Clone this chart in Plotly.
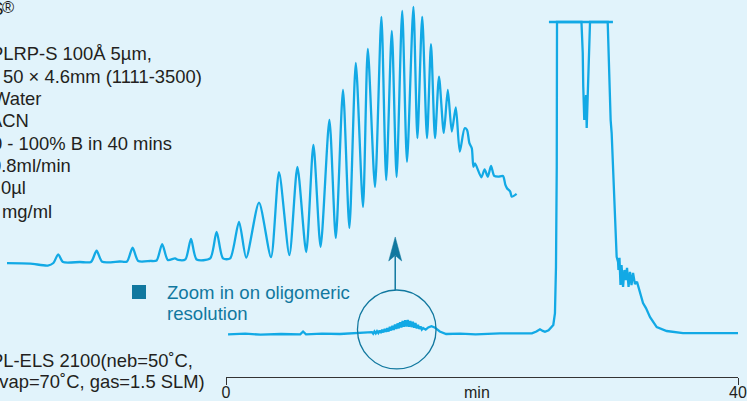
import plotly.graph_objects as go

# ---------------- data ----------------
# Full chromatogram: retention time (min) vs detector response (% of full scale)
MAIN_TIME = [0.16, 1.5, 2.7, 4.3, 5.8, 6.02, 6.25, 7.5, 8.9, 10.2, 11.0,
             11.4, 11.5, 11.6, 11.7, 11.8, 11.9, 12.0, 12.1, 12.2, 12.3,
             12.4, 12.5, 12.6, 12.7, 12.8, 12.9, 13.0, 13.1, 13.2, 13.3,
             13.4, 13.5, 13.6, 13.7, 13.8, 13.9, 14.0, 14.1, 14.2, 14.3,
             14.4, 14.5, 14.6, 14.7, 14.8, 14.9, 15.0, 15.1, 15.2, 15.3,
             15.4, 15.6, 15.8, 16.05, 16.3, 16.7, 17.2, 18.3, 19.5, 21.4, 22.8,
             23.9, 24.25, 24.53, 24.75, 24.92, 25.2, 25.4, 25.57, 25.70, 25.78,
             25.84, 25.86,
             27.77, 27.87, 27.91, 27.99, 28.06, 28.13, 28.18, 28.26, 28.34, 28.44,
             29.82, 29.87, 29.95, 30.0, 30.05, 30.13, 30.18, 30.26, 30.39, 30.52, 30.63,
             30.66, 30.74, 30.82, 30.90, 31.02, 31.13, 31.25, 31.33, 31.45, 31.56,
             31.68, 31.80, 31.95, 32.11,
             32.34, 32.58, 32.81, 33.13, 33.65, 34.43, 35.70, 37.03, 38.59, 40.0]
MAIN_SIGNAL = [-0.1, 0.1, -0.2, 0.0, -0.1, 0.8, -0.1, 0.1, 0.0, 0.2, 0.4,
               0.6, 0.1, 0.8, 0.2, 0.9, 0.3, 1.1, 0.3, 1.4, 0.5,
               1.6, 0.7, 1.9, 0.8, 2.3, 1.1, 2.6, 1.3, 3.0, 1.6,
               3.4, 1.8, 3.8, 2.1, 4.2, 2.3, 4.4, 2.4, 4.5, 2.3,
               4.2, 2.2, 3.9, 2.0, 3.5, 1.8, 2.9, 1.6, 2.4, 1.4,
               1.9, 1.4, 2.1, 2.5, 2.1, 0.8, 0.0, 0.1, -0.1, 0.2, 0.1,
               0.2, 0.8, 1.5, 1.0, 0.7, 1.2, 2.0, 2.9, 6.7, 21.5,
               53.5, 100,
               100, 90.1, 79.3, 68.6, 71.8, 76.6, 66.0, 79.3, 91.0, 100,
               100, 91.0, 85.7, 77.2, 68.6, 64.4, 59.0, 49.4, 34.3, 24.7, 23.1,
               20.5, 24.4, 15.7, 22.1, 15.1, 20.5, 17.3, 21.2, 15.1, 19.9,
               15.7, 19.6, 16.0, 16.7,
               13.1, 9.9, 8.3, 5.4, 2.2, 0.96, 0.3, 0.3, 0.2, 0.3]

# Detector saturation (flat top of the main peak)
SATURATION_TIME = [25.23, 30.23]
SATURATION_LEVEL = 100

# Zoomed view of the oligomeric region (expanded time, expanded response)
ZOOM_TIME = [10.00, 10.29, 10.51, 10.58, 10.64, 10.70, 10.91, 11.05, 11.12, 11.19,
             11.41, 11.50, 11.57, 11.64, 11.79, 11.87, 11.94, 12.01, 12.10, 12.14,
             12.23, 12.30, 12.37, 12.54, 12.62, 12.70, 12.79, 12.90, 12.99, 13.15,
             13.30, 13.40, 13.53, 13.63, 13.74, 13.83, 13.92, 14.03, 14.11, 14.20,
             14.28, 14.36, 14.45, 14.51, 14.60, 14.68, 14.74, 14.81, 14.87, 14.94,
             15.00, 15.08, 15.13, 15.19, 15.25, 15.30, 15.35, 15.40, 15.46, 15.51,
             15.56, 15.61, 15.66, 15.72, 15.75, 15.78, 15.81, 15.83, 15.85, 15.93,
             15.97, 16.01, 16.05, 16.09, 16.14, 16.20, 16.23, 16.25, 16.29, 16.31,
             16.37]
ZOOM_SIGNAL = [0.0, -0.2, -1.0, 0.0, 3.4, 0.4, 0.4, 0.4, 4.8, 0.5,
               0.6, 0.6, 6.0, 0.8, 0.8, 1.0, 7.4, 1.2, 1.8, 1.2,
               1.4, 9.4, 1.4, 1.8, 12.2, 1.8, 1.8, 16.1, 2.1, 23.6,
               2.3, 35.5, 3.1, 37.5, 4.3, 46.1, 6.3, 55.9, 9.8, 67.6,
               13.7, 78.1, 21.9, 83.6, 29.7, 96.1, 32.4, 90.6, 33.6, 98.4,
               39.5, 100.0, 48.8, 96.1, 48.8, 85.5, 48.8, 72.8, 50.8, 67.6,
               51.3, 60.8, 43.5, 52.6, 52.0, 46.8, 44.8, 37.6, 38.9, 33.5,
               36.6, 33.7, 37.9, 34.0, 33.7, 34.0, 30.5, 29.2, 27.9, 25.9,
               27.0]

ZOOM_WINDOW = [10.27, 16.41]          # region circled on the full trace (min)
X_TICKS = [0, 40]
X_TICK_TEXT = ["0", "40"]
X_TITLE = "min"

TITLE_TEXT = "PLRP-S"
TITLE_MARK = "®"
INFO_LINES = ["PLRP-S 100Å 5µm,", "50 × 4.6mm (1111-3500)", "Water", "ACN",
              "0 - 100% B in 40 mins", "0.8ml/min", "0µl", "mg/ml"]
DETECTOR_LINES = ["PL-ELS 2100(neb=50˚C,", "evap=70˚C, gas=1.5 SLM)"]
LEGEND_LINES = ["Zoom in on oligomeric", "resolution"]

# ---------------- styling ----------------
W, H = 747, 401
BOTTOM = 24
PLOT_H = H - BOTTOM
BG = "#E1F3FB"
TRACE = "#12A9E5"
TEAL = "#11789F"
INK = "#231F20"
FONT = "Liberation Sans, Arial, Helvetica, sans-serif"
TEXT_SIZE = 18.4


def px_x(px):
    return px / W


def px_y(py):
    return 1 - py / PLOT_H


fig = go.Figure()

fig.add_trace(go.Scatter(x=MAIN_TIME, y=MAIN_SIGNAL, mode="lines",
                         line=dict(color=TRACE, width=2.3), xaxis="x", yaxis="y",
                         hoverinfo="skip"))
fig.add_trace(go.Scatter(x=SATURATION_TIME, y=[SATURATION_LEVEL] * 2, mode="lines",
                         line=dict(color=TRACE, width=2.4), xaxis="x", yaxis="y",
                         hoverinfo="skip"))
fig.add_trace(go.Scatter(x=ZOOM_TIME, y=ZOOM_SIGNAL, mode="lines",
                         line=dict(color=TRACE, width=2.3, shape="spline", smoothing=0.7),
                         xaxis="x2", yaxis="y2", hoverinfo="skip"))

fig.update_layout(
    width=W, height=H,
    margin=dict(l=0, r=0, t=0, b=BOTTOM, pad=0),
    paper_bgcolor=BG, plot_bgcolor="rgba(0,0,0,0)",
    showlegend=False,
    font=dict(family=FONT, color=INK),
    xaxis=dict(domain=[px_x(226), px_x(738)], range=[0, 40], showgrid=False,
               zeroline=False, showline=True, linecolor="#333333", linewidth=1.2,
               ticks="outside", ticklen=7, tickwidth=1.2, tickcolor="#333333",
               tickvals=X_TICKS, ticktext=X_TICK_TEXT, ticklabelstandoff=-6,
               tickfont=dict(size=16, color=INK, family=FONT), automargin=False,
               fixedrange=True),
    yaxis=dict(domain=[0, 1], range=[-13.78, 107.05], visible=False, fixedrange=True),
    xaxis2=dict(domain=[0, 1], range=[9.9125, 19.25], visible=False, anchor="y2",
                fixedrange=True),
    yaxis2=dict(domain=[0, 1], range=[-44.5, 102.7], visible=False, anchor="x2",
                fixedrange=True),
)

# circle round the oligomer region and arrow to the zoomed view
cx = (ZOOM_WINDOW[0] + ZOOM_WINDOW[1]) / 2
fig.add_shape(type="circle", xref="x", yref="y", x0=ZOOM_WINDOW[0], x1=ZOOM_WINDOW[1],
              y0=-11.2, y1=14.1, line=dict(color=TEAL, width=1.3))
ax_x = cx - 0.12
fig.add_shape(type="line", xref="x", yref="y", x0=ax_x, x1=ax_x, y0=14.1, y1=25.0,
              line=dict(color=TEAL, width=1.5))
fig.add_shape(type="path", xref="x", yref="y",
              path=f"M {ax_x},31.1 L {ax_x + 0.51},23.4 L {ax_x},25.2 L {ax_x - 0.51},23.4 Z",
              fillcolor=TEAL, line=dict(color=TEAL, width=0.5))

# legend square + text
fig.add_shape(type="rect", xref="paper", yref="paper", x0=px_x(132), x1=px_x(146),
              y0=px_y(299), y1=px_y(285), fillcolor=TEAL, line=dict(width=0))


def label(txt, x, y, anchor, size, color=INK):
    return dict(text=txt, xref="paper", yref="paper", x=x, y=y,
                xanchor=anchor, yanchor="middle", showarrow=False,
                font=dict(size=size, color=color, family=FONT), borderpad=0, borderwidth=0)


ann = []
for txt, py in zip(LEGEND_LINES, [292, 313]):
    ann.append(label(txt, px_x(167), px_y(py), "left", 18.6, TEAL))

info_right = [151.7, 201.7, 40.7, 29.3, 171.7, 70.7, 26.0, 51.7]
info_y = [53.3, 76.0, 98.3, 120.0, 143.3, 165.7, 187.7, 211.7]
for txt, rx, py in zip(INFO_LINES, info_right, info_y):
    ann.append(label(txt, px_x(rx), px_y(py), "right", TEXT_SIZE))
for txt, rx, py in zip(DETECTOR_LINES, [192.7, 205.0], [360.0, 381.0]):
    ann.append(label(txt, px_x(rx), px_y(py), "right", TEXT_SIZE))

ann.append(label(TITLE_TEXT, px_x(2.5), px_y(8.5), "right", TEXT_SIZE))
ann.append(label(TITLE_MARK, px_x(2.0), px_y(7.5), "left", 16.5))
ann.append(label(X_TITLE, px_x(477), px_y(392), "center", 16))

fig.update_layout(annotations=ann)

fig.write_html("out.html", config={"displayModeBar": False},
               post_script="document.body.style.margin='0';")
